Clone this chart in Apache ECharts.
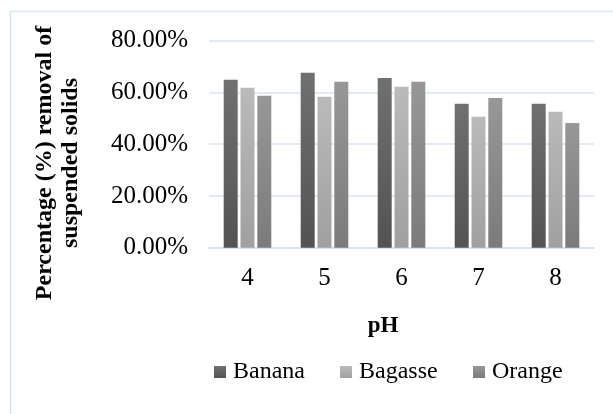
<!DOCTYPE html>
<html>
<head>
<meta charset="utf-8">
<script src="https://cdn.jsdelivr.net/npm/echarts@6/dist/echarts.min.js"></script>
<style>
  html, body { margin: 0; padding: 0; background: #ffffff; }
  #chart { width: 613px; height: 414px; }
</style>
</head>
<body>
<div id="chart"></div>
<script>
// pH levels tested
const categories = ['4', '5', '6', '7', '8'];
// Fraction of suspended solids removed by each coagulant
const banana  = [0.649, 0.676, 0.656, 0.556, 0.556];
const bagasse = [0.618, 0.583, 0.622, 0.506, 0.525];
const orange  = [0.587, 0.641, 0.641, 0.579, 0.482];
const seriesNames = ['Banana', 'Bagasse', 'Orange'];
const yTicks = [0, 0.2, 0.4, 0.6, 0.8];

const serif = 'Liberation Serif';
const gridColor = '#d9e3f1';

// top / bottom shades of each series' gradient fill
const shades = [['#707070', '#535353'], ['#bababa', '#a0a0a0'], ['#979797', '#7b7b7b']];

function shade(pair) {
  return new echarts.graphic.LinearGradient(0, 0, 0, 1, [
    { offset: 0, color: pair[0] },
    { offset: 1, color: pair[1] }
  ]);
}

// Legend row drawn as swatch + label pairs
const legendX = [214, 340, 473];
const legendY = 372;
const legendItems = [];
seriesNames.forEach((name, i) => {
  legendItems.push({
    type: 'rect', silent: true,
    shape: { x: legendX[i], y: legendY - 6, width: 12, height: 12 },
    style: { fill: shade(shades[i]) }
  });
  legendItems.push({
    type: 'text', silent: true,
    x: legendX[i] + 19, y: legendY,
    style: {
      text: name, fontFamily: serif, fontSize: 24, fill: '#000000',
      align: 'left', verticalAlign: 'middle'
    }
  });
});

const chart = echarts.init(document.getElementById('chart'), null, { renderer: 'canvas' });

chart.setOption({
  backgroundColor: '#ffffff',
  animation: false,
  textStyle: { fontFamily: serif },
  grid: { left: 209, right: 19, top: 40.7, bottom: 166.3, containLabel: false },
  xAxis: {
    type: 'category',
    data: categories,
    axisLine: { show: true, lineStyle: { color: gridColor, width: 1.5 } },
    axisTick: { show: false },
    axisLabel: { fontFamily: serif, fontSize: 25, color: '#000000', margin: 18 }
  },
  yAxis: {
    type: 'value',
    min: yTicks[0],
    max: yTicks[yTicks.length - 1],
    interval: 0.2,
    axisLine: { show: false },
    axisTick: { show: false },
    splitLine: { lineStyle: { color: gridColor, width: 1.5 } },
    axisLabel: {
      fontFamily: serif, fontSize: 25, color: '#000000', margin: 21,
      formatter: v => (v * 100).toFixed(2) + '%'
    }
  },
  series: [banana, bagasse, orange].map((values, i) => ({
    name: seriesNames[i], type: 'bar', data: values, barWidth: 14, barGap: '20%',
    itemStyle: { color: shade(shades[i]) }
  })),
  graphic: [
    {
      type: 'rect', silent: true, z: -1,
      shape: { x: 10.5, y: 11.5, width: 700, height: 500 },
      style: { fill: 'none', stroke: '#dbe4f1', lineWidth: 1.5 }
    },
    {
      type: 'text', silent: true,
      x: 58, y: 163, rotation: Math.PI / 2,
      style: {
        text: 'Percentage (%) removal of\nsuspended solids',
        fontFamily: serif, fontWeight: 'bold', fontSize: 24, lineHeight: 26,
        fill: '#000000', align: 'center', verticalAlign: 'middle'
      }
    },
    {
      type: 'text', silent: true,
      x: 383, y: 326,
      style: {
        text: 'pH',
        fontFamily: serif, fontWeight: 'bold', fontSize: 23,
        fill: '#000000', align: 'center', verticalAlign: 'middle'
      }
    }
  ].concat(legendItems)
});
</script>
</body>
</html>
